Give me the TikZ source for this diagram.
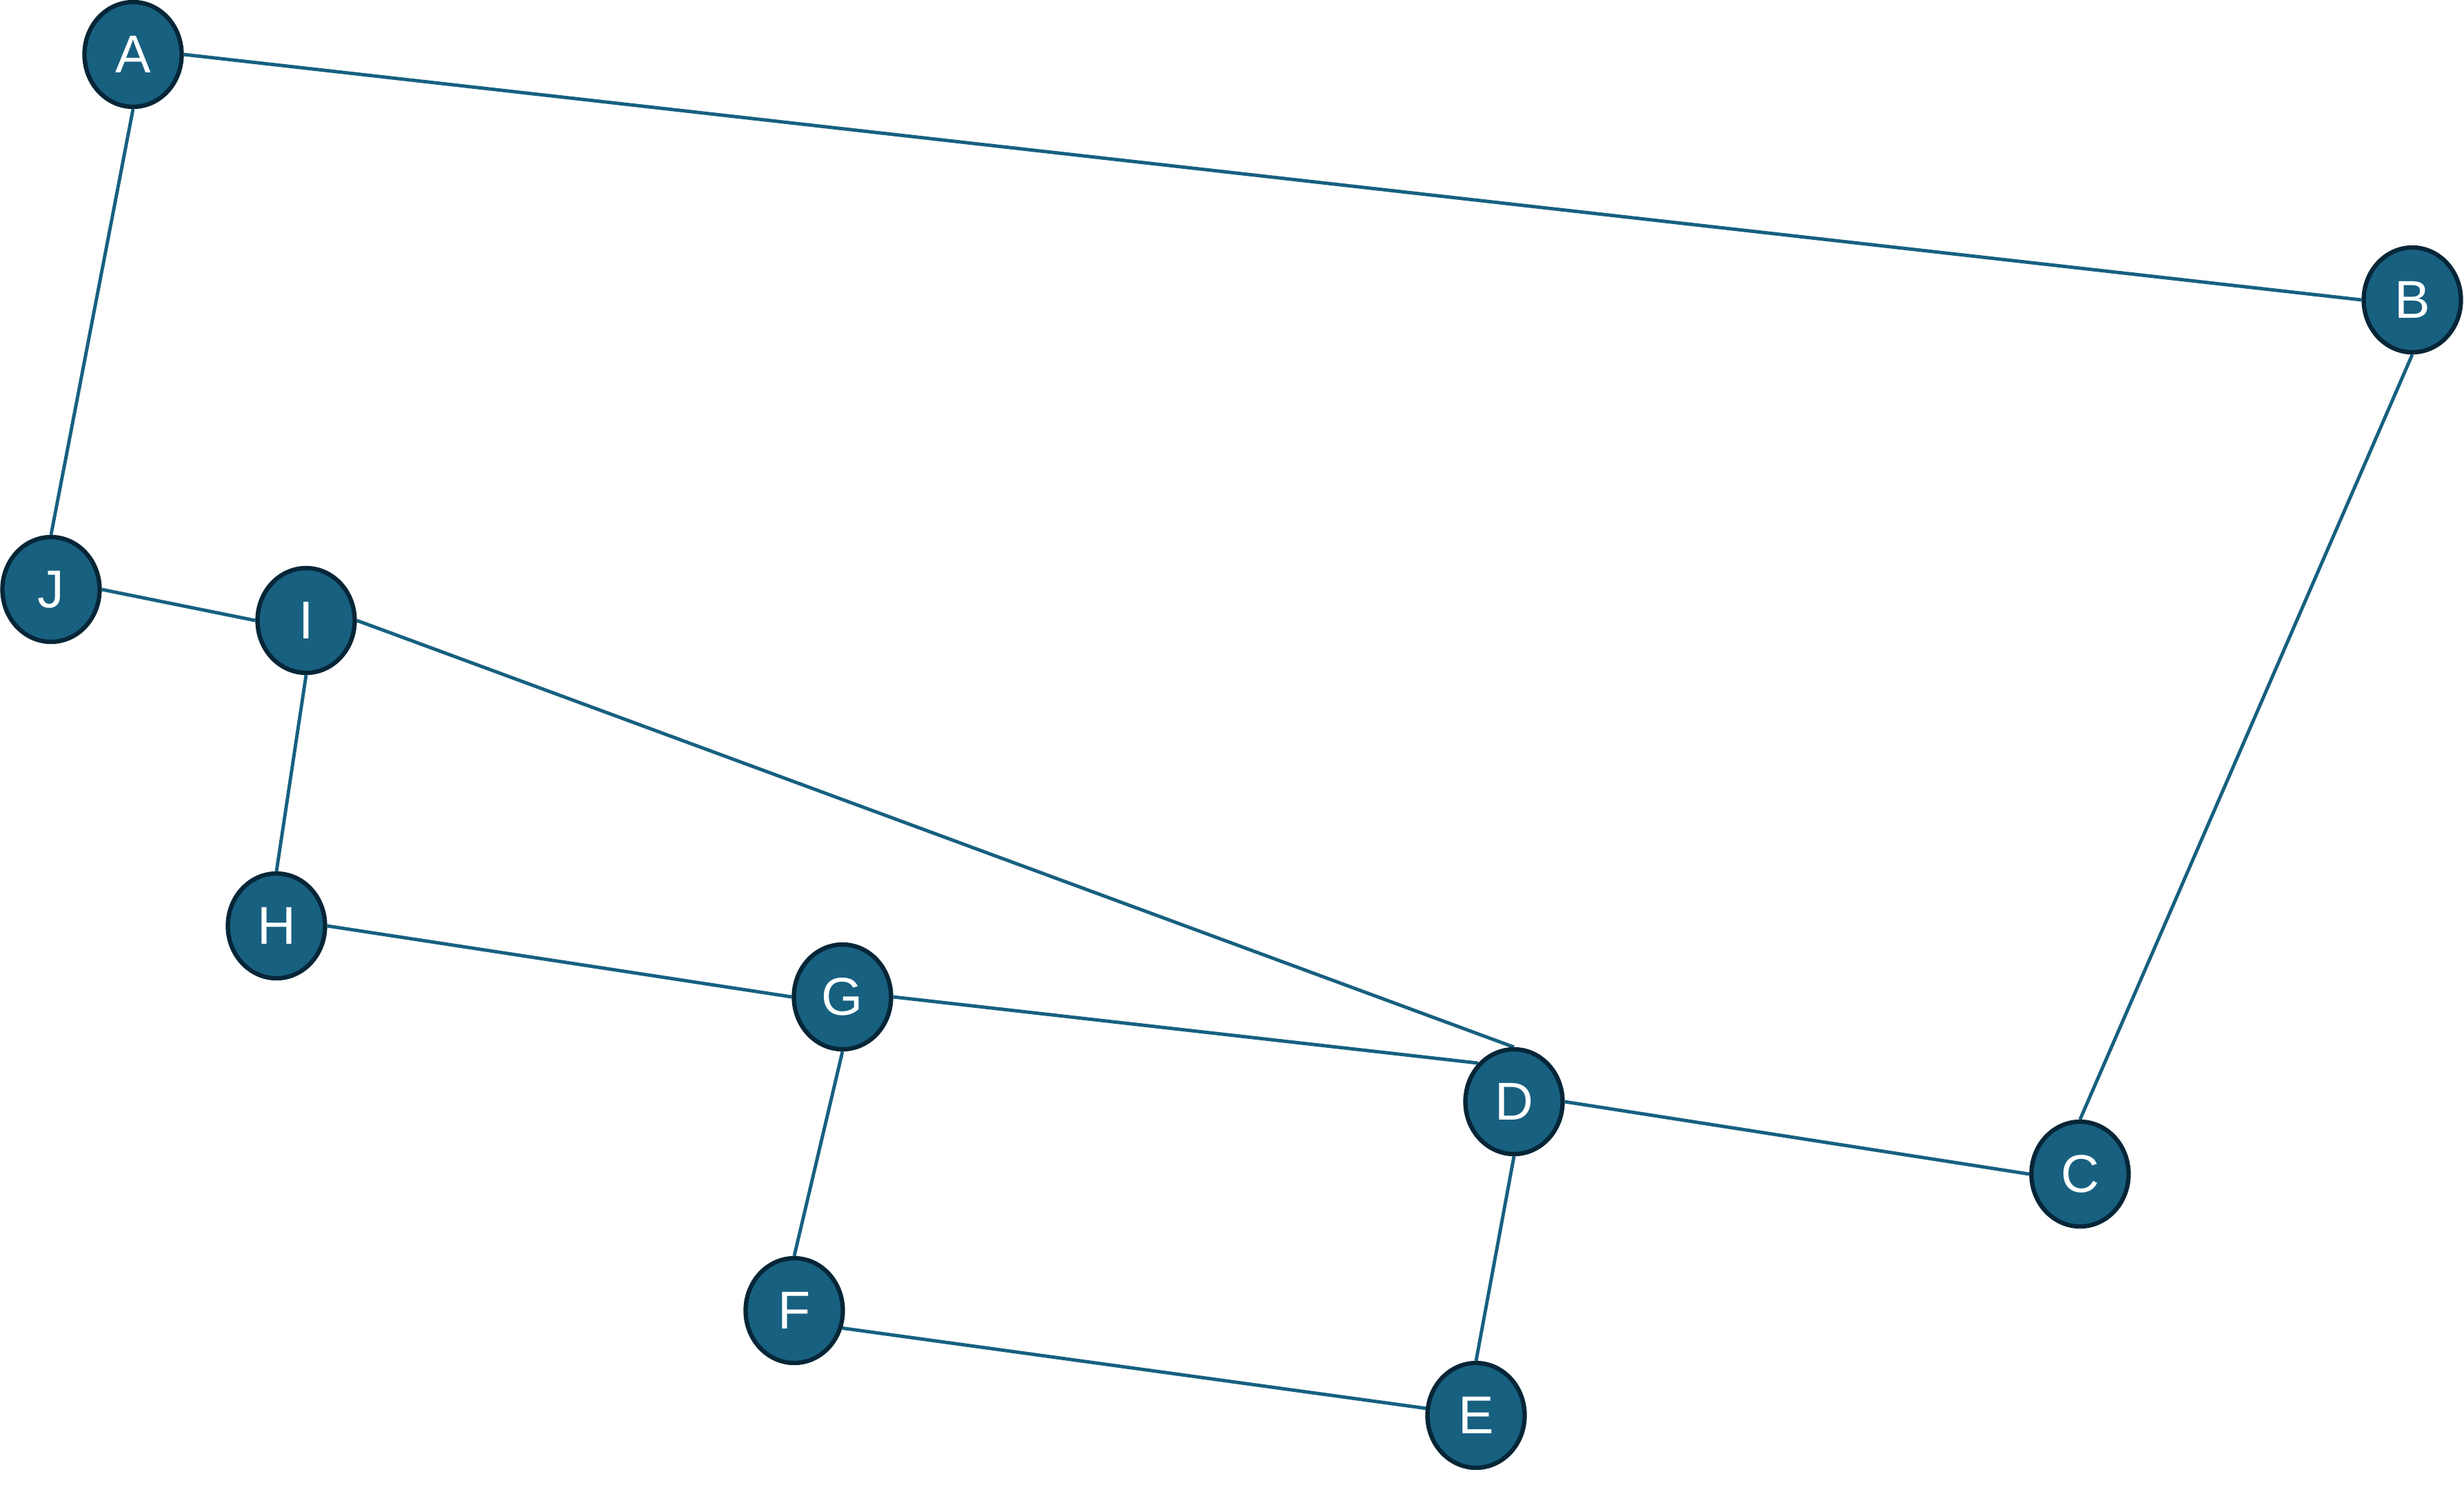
\documentclass[tikz,border=0pt]{standalone}
\usepackage{fontspec}
\setmainfont{Liberation Sans}
\usetikzlibrary{shapes.geometric,backgrounds}
\definecolor{nodefill}{RGB}{23,96,128}
\definecolor{nodeborder}{RGB}{6,38,56}
\begin{document}
\begin{tikzpicture}[vertex/.style = {draw=nodeborder, fill=nodefill, ellipse, line width=1.8pt, minimum width=1.41cm, minimum height=1.52cm, inner sep=0pt, text=white, font=\fontsize{22}{26}\selectfont}, link/.style = {draw=nodefill, line width=1.4pt}]
\useasboundingbox (0,0) rectangle (35.74,-21.53);
\node[vertex] (A) at (1.93,-0.79) {A};
\node[vertex] (B) at (34.99,-4.35) {B};
\node[vertex] (C) at (30.17,-17.03) {C};
\node[vertex] (D) at (21.96,-15.98) {D};
\node[vertex] (E) at (21.41,-20.53) {E};
\node[vertex] (F) at (11.52,-19.01) {F};
\node[vertex] (G) at (12.22,-14.46) {G};
\node[vertex] (H) at (4.01,-13.43) {H};
\node[vertex] (I) at (4.44,-9.00) {I};
\node[vertex] (J) at (0.74,-8.55) {J};

\begin{scope}[on background layer]
\draw[link] (A.east) -- (B.west);
\draw[link] (A.south) -- (J.north);
\draw[link] (J.east) -- (I.west);
\draw[link] (I.south) -- (H.north);
\draw[link] (I.east) -- (D.north);
\draw[link] (H.east) -- (G.west);
\draw[link] (G.east) -- (D.north west);
\draw[link] (G.south) -- (F.north);
\draw[link] (F.-20) -- (E.172);
\draw[link] (D.south) -- (E.north);
\draw[link] (D.east) -- (C.west);
\draw[link] (B.south) -- (C.north);
\end{scope}
\end{tikzpicture}
\end{document}
